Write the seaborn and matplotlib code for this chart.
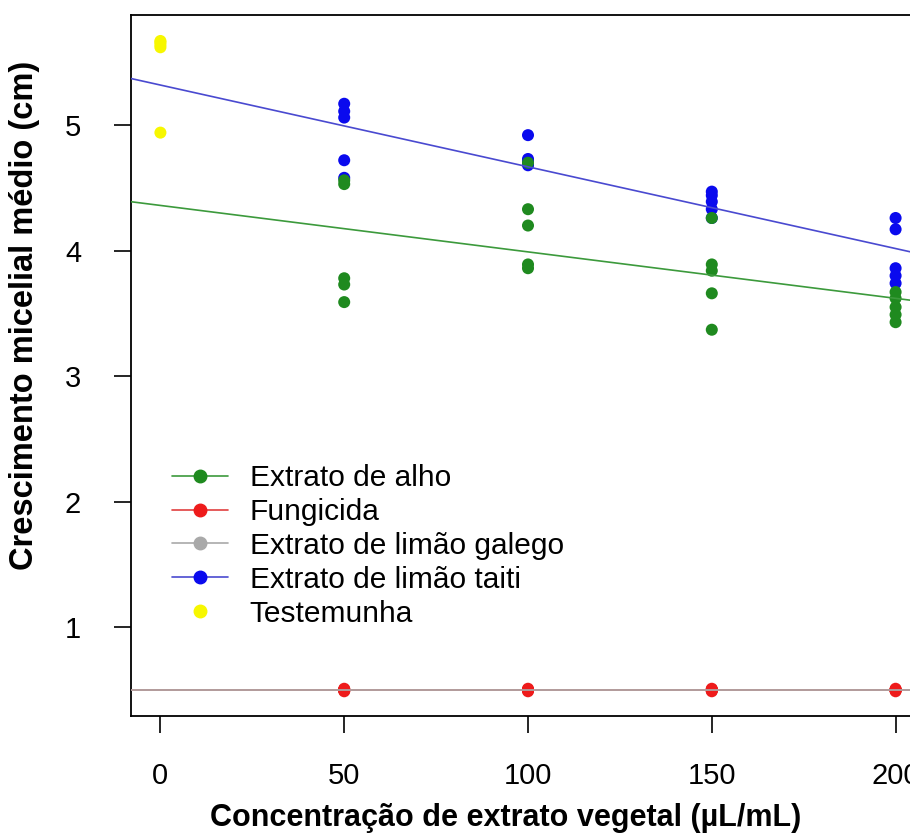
import matplotlib
matplotlib.use("Agg")
import matplotlib.pyplot as plt
from matplotlib.lines import Line2D
import pandas as pd
import seaborn as sns

# Konzentrationen (µL/mL)
konzentration = [50, 100, 150, 200]

# Crescimento micelial, 5 Wiederholungen je Konzentration
alho = [[4.56, 4.53, 3.78, 3.73, 3.59],
        [4.70, 4.33, 4.20, 3.89, 3.86],
        [4.26, 3.89, 3.84, 3.66, 3.37],
        [3.67, 3.62, 3.55, 3.49, 3.43]]
taiti = [[5.17, 5.11, 5.06, 4.72, 4.58],
         [4.92, 4.73, 4.71, 4.70, 4.68],
         [4.47, 4.44, 4.39, 4.33, 4.26],
         [4.26, 4.17, 3.86, 3.80, 3.74]]
galego = [[0.5, 0.5, 0.5, 0.5, 0.5],
          [0.5, 0.5, 0.5, 0.5, 0.5],
          [0.5, 0.5, 0.5, 0.5, 0.5],
          [0.5, 0.5, 0.5, 0.5, 0.5]]
fungicida = [[0.5, 0.5, 0.49, 0.51, 0.5],
             [0.5, 0.5, 0.49, 0.51, 0.5],
             [0.5, 0.5, 0.49, 0.51, 0.5],
             [0.5, 0.5, 0.49, 0.51, 0.5]]
testemunha_x = 0
testemunha = [5.67, 5.66, 5.64, 5.62, 4.94]

namen = ["Extrato de alho", "Fungicida", "Extrato de limão galego",
         "Extrato de limão taiti", "Testemunha"]
farben = {"Extrato de alho": "#1f8a1f", "Fungicida": "#ee1b1b",
          "Extrato de limão galego": "#a9a9a9", "Extrato de limão taiti": "#0a0aee",
          "Testemunha": "#f7f700"}
linienfarben = {"Extrato de alho": "#3c9a3c", "Fungicida": "#e04040",
                "Extrato de limão galego": "#a9a9a9", "Extrato de limão taiti": "#4a4ad0"}

# Lange Tabelle aufbauen (Reihenfolge = Zeichenreihenfolge)
zeilen = [{"grupo": "Testemunha", "x": testemunha_x, "y": v} for v in testemunha]
for name, werte in [("Extrato de limão taiti", taiti), ("Extrato de alho", alho),
                    ("Extrato de limão galego", galego), ("Fungicida", fungicida)]:
    for k, reps in zip(konzentration, werte):
        for v in reps:
            zeilen.append({"grupo": name, "x": k, "y": v})
df = pd.DataFrame(zeilen)

sns.set_theme(style="white")
plt.rcParams['font.family'] = ['Liberation Sans', 'DejaVu Sans']
plt.rcParams['text.color'] = 'black'
plt.rcParams['xtick.color'] = 'black'
plt.rcParams['ytick.color'] = 'black'

fig = plt.figure(figsize=(9.1, 8.34), dpi=100)
ax = fig.add_axes([131 / 910, 1 - 716 / 834, (925 - 131) / 910, (716 - 15) / 834])
ax.set_xlim(-8, 208)
ax.set_ylim(0.293, 5.877)

# Punkte
sns.scatterplot(data=df, x="x", y="y", hue="grupo", palette=farben, s=75,
                linewidth=0, legend=False, ax=ax, zorder=2)

# Regressionsgeraden über die ganze Achse (ohne Testemunha)
for name in ["Extrato de alho", "Fungicida", "Extrato de limão galego", "Extrato de limão taiti"]:
    sub = df[df["grupo"] == name]
    sns.regplot(data=sub, x="x", y="y", scatter=False, ci=None, truncate=False,
                color=linienfarben[name], line_kws={"lw": 1.2, "zorder": 3}, ax=ax)
ax.set_xlim(-8, 208)

# Achsen
ax.set_xticks([0, 50, 100, 150, 200])
ax.set_yticks([1, 2, 3, 4, 5])
ax.tick_params(axis="both", direction="out", length=12, width=1.2, color="black",
               labelcolor="black", labelsize=21, bottom=True, left=True)
ax.tick_params(axis="x", pad=21)
ax.tick_params(axis="y", pad=24)
for s in ["top", "bottom", "left", "right"]:
    ax.spines[s].set_color("black")
    ax.spines[s].set_linewidth(1.3)
ax.set_xlabel("")
ax.set_ylabel("")

fig.text(506 / 910, 1 - 818 / 834, "Concentração de extrato vegetal (µL/mL)",
         ha="center", va="center", fontsize=22, fontweight="bold", color="black")
fig.text(25 / 910, 1 - 315 / 834, "Crescimento micelial médio (cm)",
         ha="center", va="center", rotation=90, fontsize=23.5, fontweight="bold",
         color="black")

# Legende
handles = []
for name in namen:
    if name == "Testemunha":
        handles.append(Line2D([], [], linestyle="none", marker="o", markersize=9,
                              color=farben[name], label=name))
    else:
        handles.append(Line2D([], [], lw=1.2, color=linienfarben[name], marker="o",
                              markersize=9, markerfacecolor=farben[name],
                              markeredgecolor=farben[name], label=name))
leg = ax.legend(handles=handles, loc="upper left", bbox_to_anchor=(172 / 910, 1 - 464 / 834),
                bbox_transform=fig.transFigure, frameon=False, fontsize=21.5,
                handlelength=1.87, handletextpad=0.73, labelspacing=0.2, borderpad=0,
                borderaxespad=0)
for t in leg.get_texts():
    t.set_color("black")

fig.savefig("out.png", dpi=100)
